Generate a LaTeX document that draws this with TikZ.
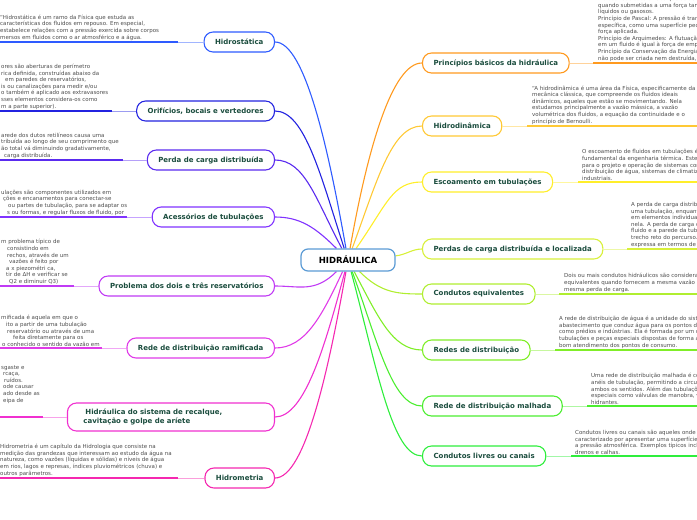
\documentclass[tikz,border=0pt]{standalone}
\usepackage{fontspec}
\setmainfont{DejaVu Sans}
\usetikzlibrary{backgrounds}
\definecolor{hubblue}{HTML}{5B9BD5}
\definecolor{topicgreen}{HTML}{1B4D3E}
\definecolor{notegray}{HTML}{4D4D4D}
\definecolor{hidrostaticacol}{HTML}{2E5BFF}
\definecolor{orificioscol}{HTML}{2323E0}
\definecolor{perdadistcol}{HTML}{5A2BEF}
\definecolor{acessorioscol}{HTML}{8033FF}
\definecolor{problemacol}{HTML}{C03BF5}
\definecolor{ramificadacol}{HTML}{E03BE8}
\definecolor{recalquecol}{HTML}{F030D0}
\definecolor{hidrometriacol}{HTML}{F528B0}
\definecolor{principioscol}{HTML}{FF9A1F}
\definecolor{hidrodinamicacol}{HTML}{FFC935}
\definecolor{escoamentocol}{HTML}{FFEE2A}
\definecolor{perdaslocalcol}{HTML}{D8F03A}
\definecolor{equivalentescol}{HTML}{B0EE30}
\definecolor{redescol}{HTML}{80EE28}
\definecolor{malhadacol}{HTML}{4CEE30}
\definecolor{livrescol}{HTML}{2EEE3C}

\begin{document}
\begin{tikzpicture}[
    x=1pt, y=1pt,
    hub/.style={rectangle, draw=hubblue, line width=1.2pt, fill=white, rounded corners=7pt, minimum width=94pt, minimum height=22pt, font=\fontsize{8.5}{10}\selectfont\bfseries},
    topic/.style={rectangle, draw=#1, line width=1.1pt, fill=white, rounded corners=9pt, minimum height=20pt, inner xsep=11pt, text=topicgreen, font=\fontsize{7}{9}\selectfont\bfseries},
    desc/.style={inner sep=0pt, align=left, text=notegray, font=\fontsize{5.5}{6.6}\selectfont},
    spoke/.style={draw=#1, line width=1.1pt},
    link/.style={draw=#1!45, line width=1pt},
    uline/.style={draw=#1, line width=2pt}
]
\useasboundingbox (0,0) rectangle (697,-520);
\clip (0,0) rectangle (697,-520);

% Centre
\node[hub] (hub) at (348,-260) {HIDRÁULICA};

% Left topics
\node[topic=hidrostaticacol, anchor=east] (hidrostatica) at (275,-42) {Hidrostática};
\node[topic=orificioscol, anchor=east] (orificios) at (275,-111) {Orifícios, bocais e vertedores};
\node[topic=perdadistcol, anchor=east] (perdadist) at (275,-160) {Perda de carga distribuída};
\node[topic=acessorioscol, anchor=east] (acessorios) at (275,-217) {Acessórios de tubulações};
\node[topic=problemacol, anchor=east] (problema) at (275,-286) {Problema dos dois e três reservatórios};
\node[topic=ramificadacol, anchor=east] (ramificada) at (275,-348) {Rede de distribuição ramificada};
\node[topic=recalquecol, anchor=east, text width=175pt, align=left, minimum height=28pt, inner xsep=16pt] (recalque) at (275,-417) {\hspace*{2pt}Hidráulica do sistema de recalque,\\cavitação e golpe de aríete};
\node[topic=hidrometriacol, anchor=east] (hidrometria) at (275,-478) {Hidrometria};

% Right topics
\node[topic=principioscol, anchor=west] (principios) at (422,-63) {Princípios básicos da hidráulica};
\node[topic=hidrodinamicacol, anchor=west] (hidrodinamica) at (422,-126) {Hidrodinâmica};
\node[topic=escoamentocol, anchor=west] (escoamento) at (422,-182) {Escoamento em tubulações};
\node[topic=perdaslocalcol, anchor=west] (perdaslocal) at (422,-249) {Perdas de carga distribuída e localizada};
\node[topic=equivalentescol, anchor=west] (equivalentes) at (422,-294) {Condutos equivalentes};
\node[topic=redescol, anchor=west] (redes) at (422,-350) {Redes de distribuição};
\node[topic=malhadacol, anchor=west] (malhada) at (422,-406) {Rede de distribuição malhada};
\node[topic=livrescol, anchor=west] (livres) at (422,-456) {Condutos livres ou canais};

% Left notes
\node[desc, anchor=south west] (hidrostatica-txt) at (0,-40.5) {“Hidrostática é um ramo da Física que estuda as\\características dos fluidos em repouso. Em especial,\\estabelece relações com a pressão exercida sobre corpos\\mersos em fluidos como o ar atmosférico e a água.};
\node[desc, anchor=south west] (orificios-txt) at (1,-109.5) {ores são aberturas de perímetro\\rica definida, construídas abaixo da\\\hspace*{4pt}em paredes de reservatórios,\\is ou canalizações para medir e/ou\\o também é aplicado aos extravasores\\sses elementos considera-os como\\m a parte superior).};
\node[desc, anchor=south west] (perdadist-txt) at (1,-158.5) {arede dos dutos retilíneos causa uma\\tribuída ao longo de seu comprimento que\\ão total vá diminuindo gradativamente,\\\hspace*{3pt}carga distribuída.};
\node[desc, anchor=south west] (acessorios-txt) at (1,-215.5) {ulações são componentes utilizados em\\\hspace*{2pt}ções e encanamentos para conectar-se\\\hspace*{7pt}ou partes de tubulação, para se adaptar os\\\hspace*{6pt}s ou formas, e regular fluxos de fluido, por};
\node[desc, anchor=south west] (problema-txt) at (1,-284.5) {m problema típico de\\\hspace*{6pt}consistindo em\\\hspace*{6pt}rechos, através de um\\\hspace*{8pt}vazões é feito por\\\hspace*{5pt}a x piezométri ca,\\\hspace*{5pt}tir de ΔH e verificar se\\\hspace*{8pt}Q2 e diminuir Q3)};
\node[desc, anchor=south west] (ramificada-txt) at (1,-346.5) {mificada é aquela em que o\\\hspace*{5pt}ito a partir de uma tubulação\\\hspace*{6pt}reservatório ou através de uma\\\hspace*{12pt}feita diretamente para os\\\hspace*{1pt}o conhecido o sentido da vazão em};
\node[desc, anchor=south west] (recalque-txt) at (1,-403.5) {sgaste e\\\hspace*{2pt}rcaça,\\\hspace*{3pt}ruídos.\\\hspace*{2pt}ode causar\\\hspace*{2pt}ado desde as\\\hspace*{2pt}eipa de};
\node[desc, anchor=south west] (hidrometria-txt) at (0,-476.5) {Hidrometria é um capítulo da Hidrologia que consiste na\\medição das grandezas que interessam ao estudo da água na\\natureza, como vazões (líquidas e sólidas) e níveis de água\\em rios, lagos e represas, índices pluviométricos (chuva) e\\outros parâmetros.};

% Right notes
\node[desc, anchor=south west] (principios-txt) at (598,-61.5) {Fluidos: São substâncias que se deformam\\quando submetidas a uma força tangencial\\líquidos ou gasosos.\\Princípio de Pascal: A pressão é transmitida\\específica, como uma superfície pequena\\força aplicada.\\Princípio de Arquimedes: A flutuação\\em um fluido é igual à força de empuxo\\Princípio da Conservação da Energia:\\não pode ser criada nem destruída,};
\node[desc, anchor=south west] (hidrodinamica-txt) at (532,-124.5) {“A hidrodinâmica é uma área da Física, especificamente da\\mecânica clássica, que compreende os fluidos ideais\\dinâmicos, aqueles que estão se movimentando. Nela\\estudamos principalmente a vazão mássica, a vazão\\volumétrica dos fluidos, a equação da continuidade e o\\princípio de Bernoulli.};
\node[desc, anchor=south west] (escoamento-txt) at (582,-180.5) {O escoamento de fluidos em tubulações é\\fundamental da engenharia térmica. Este\\para o projeto e operação de sistemas como\\distribuição de água, sistemas de climatização\\industriais.};
\node[desc, anchor=south west] (perdaslocal-txt) at (631,-247.5) {A perda de carga distribuída\\uma tubulação, enquanto\\em elementos individuais\\nela. A perda de carga distribuída\\fluido e a parede da tubulação\\trecho reto do percurso.\\expressa em termos de};
\node[desc, anchor=south west] (equivalentes-txt) at (564,-292.5) {Dois ou mais condutos hidráulicos são considerados\\equivalentes quando fornecem a mesma vazão para\\mesma perda de carga.};
\node[desc, anchor=south west] (redes-txt) at (559,-348.5) {A rede de distribuição de água é a unidade do sistema\\abastecimento que conduz água para os pontos de\\como prédios e indústrias. Ela é formada por um conjunto\\tubulações e peças especiais dispostas de forma a\\bom atendimento dos pontos de consumo.};
\node[desc, anchor=south west] (malhada-txt) at (591,-404.5) {Uma rede de distribuição malhada é constituída\\anéis de tubulação, permitindo a circulação\\ambos os sentidos. Além das tubulações\\especiais como válvulas de manobra, ventosas\\hidrantes.};
\node[desc, anchor=south west] (livres-txt) at (575,-454.5) {Condutos livres ou canais são aqueles onde\\caracterizado por apresentar uma superfície\\a pressão atmosférica. Exemplos típicos incluem\\drenos e calhas.};

% Underline ends
\coordinate (hidrostatica-a) at (0,-42);   \coordinate (hidrostatica-b) at (178,-42);
\coordinate (orificios-a) at (0,-111);     \coordinate (orificios-b) at (112,-111);
\coordinate (perdadist-a) at (0,-160);     \coordinate (perdadist-b) at (123,-160);
\coordinate (acessorios-a) at (0,-217);    \coordinate (acessorios-b) at (127,-217);
\coordinate (problema-a) at (0,-286);      \coordinate (problema-b) at (74,-286);
\coordinate (ramificada-a) at (0,-348);    \coordinate (ramificada-b) at (102,-348);
\coordinate (recalque-a) at (0,-417);      \coordinate (recalque-b) at (43,-417);
\coordinate (hidrometria-a) at (0,-478);   \coordinate (hidrometria-b) at (178,-478);
\coordinate (principios-a) at (593,-63);   \coordinate (principios-b) at (697,-63);
\coordinate (hidrodinamica-a) at (527,-126); \coordinate (hidrodinamica-b) at (697,-126);
\coordinate (escoamento-a) at (578,-182);  \coordinate (escoamento-b) at (697,-182);
\coordinate (perdaslocal-a) at (627,-249); \coordinate (perdaslocal-b) at (697,-249);
\coordinate (equivalentes-a) at (559,-294); \coordinate (equivalentes-b) at (697,-294);
\coordinate (redes-a) at (555,-350);       \coordinate (redes-b) at (697,-350);
\coordinate (malhada-a) at (587,-406);     \coordinate (malhada-b) at (697,-406);
\coordinate (livres-a) at (571,-456);      \coordinate (livres-b) at (697,-456);

% Underlines and links
\draw[uline=hidrostaticacol] (hidrostatica-a) -- (hidrostatica-b);
\draw[link=hidrostaticacol] (hidrostatica-b) -- (hidrostatica);
\draw[uline=orificioscol] (orificios-a) -- (orificios-b);
\draw[link=orificioscol] (orificios-b) -- (orificios);
\draw[uline=perdadistcol] (perdadist-a) -- (perdadist-b);
\draw[link=perdadistcol] (perdadist-b) -- (perdadist);
\draw[uline=acessorioscol] (acessorios-a) -- (acessorios-b);
\draw[link=acessorioscol] (acessorios-b) -- (acessorios);
\draw[uline=problemacol] (problema-a) -- (problema-b);
\draw[link=problemacol] (problema-b) -- (problema);
\draw[uline=ramificadacol] (ramificada-a) -- (ramificada-b);
\draw[link=ramificadacol] (ramificada-b) -- (ramificada);
\draw[uline=recalquecol] (recalque-a) -- (recalque-b);
\draw[link=recalquecol] (recalque-b) -- (recalque);
\draw[uline=hidrometriacol] (hidrometria-a) -- (hidrometria-b);
\draw[link=hidrometriacol] (hidrometria-b) -- (hidrometria);
\draw[link=principioscol] (principios) -- (principios-a);
\draw[uline=principioscol] (principios-a) -- (principios-b);
\draw[link=hidrodinamicacol] (hidrodinamica) -- (hidrodinamica-a);
\draw[uline=hidrodinamicacol] (hidrodinamica-a) -- (hidrodinamica-b);
\draw[link=escoamentocol] (escoamento) -- (escoamento-a);
\draw[uline=escoamentocol] (escoamento-a) -- (escoamento-b);
\draw[link=perdaslocalcol] (perdaslocal) -- (perdaslocal-a);
\draw[uline=perdaslocalcol] (perdaslocal-a) -- (perdaslocal-b);
\draw[link=equivalentescol] (equivalentes) -- (equivalentes-a);
\draw[uline=equivalentescol] (equivalentes-a) -- (equivalentes-b);
\draw[link=redescol] (redes) -- (redes-a);
\draw[uline=redescol] (redes-a) -- (redes-b);
\draw[link=malhadacol] (malhada) -- (malhada-a);
\draw[uline=malhadacol] (malhada-a) -- (malhada-b);
\draw[link=livrescol] (livres) -- (livres-a);
\draw[uline=livrescol] (livres-a) -- (livres-b);

% Spokes from the centre
\begin{scope}[on background layer]
\draw[spoke=hidrostaticacol] (hub) to[out=100, in=0, out distance=100pt, in distance=30pt] (hidrostatica.east);
\draw[spoke=orificioscol] (hub) to[out=108, in=0, out distance=75pt, in distance=30pt] (orificios.east);
\draw[spoke=perdadistcol] (hub) to[out=118, in=0, out distance=55pt, in distance=30pt] (perdadist.east);
\draw[spoke=acessorioscol] (hub) to[out=135, in=0, out distance=30pt, in distance=25pt] (acessorios.east);
\draw[spoke=problemacol] (hub) to[out=-135, in=0, out distance=30pt, in distance=25pt] (problema.east);
\draw[spoke=ramificadacol] (hub) to[out=-115, in=0, out distance=50pt, in distance=30pt] (ramificada.east);
\draw[spoke=recalquecol] (hub) to[out=-105, in=0, out distance=75pt, in distance=30pt] (recalque.east);
\draw[spoke=hidrometriacol] (hub) to[out=-100, in=0, out distance=100pt, in distance=30pt] (hidrometria.east);
\draw[spoke=principioscol] (hub) to[out=80, in=180, out distance=100pt, in distance=30pt] (principios.west);
\draw[spoke=hidrodinamicacol] (hub) to[out=70, in=180, out distance=75pt, in distance=30pt] (hidrodinamica.west);
\draw[spoke=escoamentocol] (hub) to[out=55, in=180, out distance=55pt, in distance=30pt] (escoamento.west);
\draw[spoke=perdaslocalcol] (hub) to[out=5, in=180, out distance=10pt, in distance=10pt] (perdaslocal.west);
\draw[spoke=equivalentescol] (hub) to[out=-45, in=180, out distance=30pt, in distance=25pt] (equivalentes.west);
\draw[spoke=redescol] (hub) to[out=-62, in=180, out distance=50pt, in distance=30pt] (redes.west);
\draw[spoke=malhadacol] (hub) to[out=-70, in=180, out distance=75pt, in distance=30pt] (malhada.west);
\draw[spoke=livrescol] (hub) to[out=-75, in=180, out distance=100pt, in distance=30pt] (livres.west);
\end{scope}

\end{tikzpicture}
\end{document}
